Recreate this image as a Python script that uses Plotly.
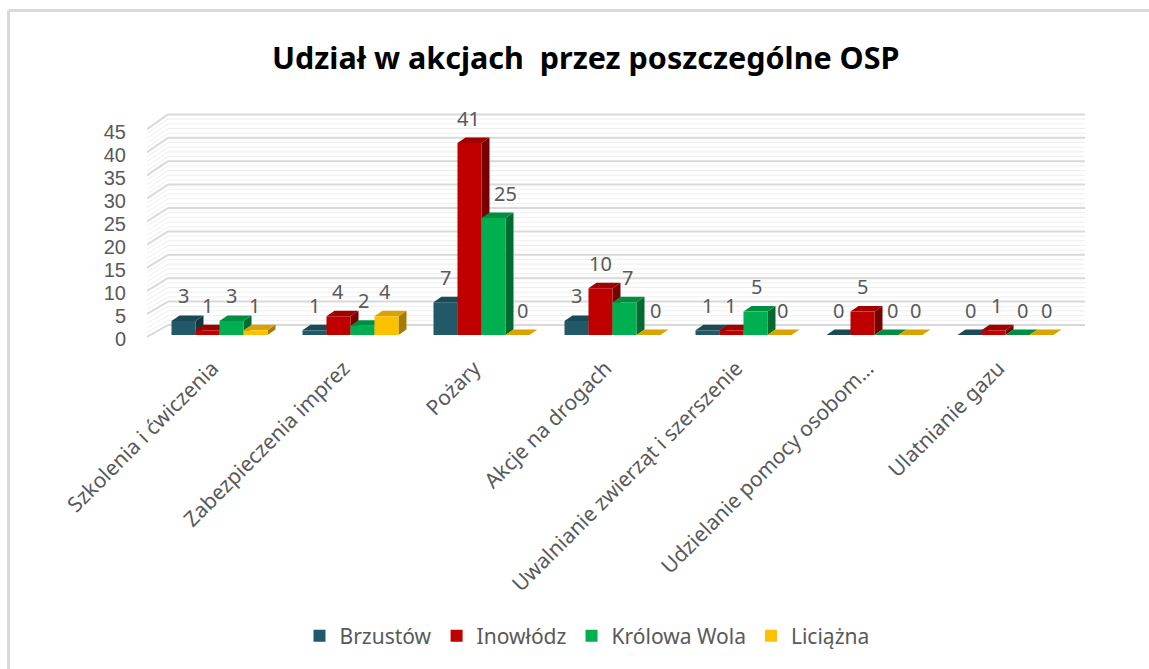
import plotly.graph_objects as go

categories = ["Szkolenia i ćwiczenia", "Zabezpieczenia imprez", "Pożary", "Akcje na drogach",
              "Uwalnianie zwierząt i szerszenie", "Udzielanie pomocy osobom…", "Ulatnianie gazu"]
brzustow = [3, 1, 7, 3, 1, 0, 0]
inowlodz = [1, 4, 41, 10, 1, 5, 1]
krolowa_wola = [3, 2, 25, 7, 5, 0, 0]
liciazna = [1, 4, 0, 0, 0, 0, 0]
series_names = ["Brzustów", "Inowłódz", "Królowa Wola", "Liciążna"]
series_values = [brzustow, inowlodz, krolowa_wola, liciazna]
front_colors = ["#215968", "#C00000", "#00B050", "#FFC000"]
top_colors = ["#1B4A57", "#A00000", "#008F41", "#D9A300"]
side_colors = ["#143842", "#780000", "#006B2E", "#A67C00"]
y_ticks = list(range(0, 50, 5))
# horizontal nudges of the value labels, in pixels, one row per series
label_nudge = [
    [0, 0, 0, 0, 0, 0, 1],
    [0, 0, -1, 0, -1, 0, 3],
    [0, 1, 12, 3, 1, 6, 5],
    [-1, -1, 5, 7, 3, 5, 5],
]

TEXT = "#595959"
FONT = "Noto Sans"
PX_X = 131.0      # pixels per category
PX_Y = 4.68       # pixels per unit
BAR_W = 24.0 / PX_X
DEPTH_X = 8 / PX_X
DEPTH_Y = 5.5 / PX_Y
WALL_X0, WALL_DX = -0.5534, 21 / PX_X
X_MAX = 6.607
BACK_0 = 10 / PX_Y   # back wall zero sits above the bars' baseline
PLOT_L, PLOT_R, PLOT_T, PLOT_B = 147, 1085, 110, 345

def paper_x(px):
    return (px - PLOT_L) / (PLOT_R - PLOT_L)
def paper_y(py):
    return (PLOT_B - py) / (PLOT_B - PLOT_T)

shapes = []
def poly(pts, fill):
    d = "M " + " L ".join(f"{x:.4f} {y:.4f}" for x, y in pts) + " Z"
    shapes.append(dict(type="path", path=d, xref="x", yref="y", fillcolor=fill,
                       line=dict(width=0), layer="below"))
def seg(x0, y0, x1, y1, color, w):
    shapes.append(dict(type="line", x0=x0, y0=y0, x1=x1, y1=y1, xref="x", yref="y",
                       line=dict(color=color, width=w), layer="below"))

# outer frame of the chart (top and left edges are the ones inside the picture)
for (a, b, c, d) in [(8.5, 10.5, 1149, 10.5), (8.5, 10.5, 8.5, 669)]:
    shapes.append(dict(type="line", xref="paper", yref="paper", x0=paper_x(a), y0=paper_y(b),
                       x1=paper_x(c), y1=paper_y(d), line=dict(color="#D9D9D9", width=3), layer="below"))

# back and side walls
front_scale = 4.62 / PX_Y
for t in range(0, 46):
    major = t % 5 == 0
    col, w = ("#D9D9D9", 2) if major else ("#EFEFEF", 1)
    yb = BACK_0 + t
    yf = -2 / PX_Y + t * front_scale
    seg(WALL_X0 + WALL_DX, yb, X_MAX, yb, col, w)
    seg(WALL_X0, yf, WALL_X0 + WALL_DX, yb, col, w)

# 3D faces computed from the series values
for s, vals in enumerate(series_values):
    for c, v in enumerate(vals):
        x0 = c + (s - 2) * BAR_W
        x1 = x0 + BAR_W
        poly([(x1, 0), (x1 + DEPTH_X, DEPTH_Y), (x1 + DEPTH_X, v + DEPTH_Y), (x1, v)], side_colors[s])
        poly([(x0, v), (x0 + DEPTH_X, v + DEPTH_Y), (x1 + DEPTH_X, v + DEPTH_Y), (x1, v)], top_colors[s])

fig = go.Figure()
xs = list(range(len(categories)))
for s, vals in enumerate(series_values):
    fig.add_trace(go.Bar(x=xs, y=vals, name=series_names[s], marker=dict(color=front_colors[s], line=dict(width=0))))
fig.add_trace(go.Scatter(x=[0], y=[0], yaxis="y2", mode="markers", marker=dict(opacity=0),
                         showlegend=False, hoverinfo="skip"))

annotations = []
for s, vals in enumerate(series_values):
    for c, v in enumerate(vals):
        annotations.append(dict(x=c + (s - 1.5) * BAR_W, y=v, xref="x", yref="y", text=str(v), showarrow=False,
                                xshift=label_nudge[s][c], yshift=25, font=dict(family=FONT, size=20, color=TEXT)))
annotations.append(dict(x=paper_x(585), y=paper_y(57), xref="paper", yref="paper", showarrow=False,
                        xanchor="center", yanchor="middle",
                        text="<b>Udział w akcjach\u00a0 przez poszczególne OSP</b>",
                        font=dict(family=FONT, size=30.5, color="#000000")))

fig.update_layout(
    width=1149, height=669, autosize=False, paper_bgcolor="white", plot_bgcolor="rgba(0,0,0,0)",
    margin=dict(l=PLOT_L, r=1149 - PLOT_R, t=PLOT_T, b=669 - PLOT_B),
    barmode="group", bargap=1 - 4 * BAR_W, bargroupgap=0,
    font=dict(family=FONT, color=TEXT),
    xaxis=dict(range=[WALL_X0, X_MAX], tickmode="array", tickvals=[x - 7 / PX_X for x in xs], ticktext=categories,
               tickangle=-45, showgrid=False, zeroline=False, showline=False, ticks="",
               tickfont=dict(family=FONT, size=21, color=TEXT), automargin=False, ticklabelstandoff=6),
    yaxis=dict(range=[-10 / PX_Y, 225 / PX_Y], showgrid=False, zeroline=False, showticklabels=False, showline=False, fixedrange=True),
    yaxis2=dict(overlaying="y", side="left", range=[-6 / 4.6, 229 / 4.6], tickmode="array", tickvals=y_ticks,
                showgrid=False, zeroline=False, showline=False, ticks="", ticklabelstandoff=20,
                tickfont=dict(family="Liberation Sans", size=20, color=TEXT), automargin=False),
    showlegend=True,
    legend=dict(orientation="h", x=paper_x(587), xanchor="center", y=paper_y(636), yanchor="middle",
                bgcolor="rgba(0,0,0,0)",
                font=dict(family=FONT, size=21, color=TEXT), traceorder="normal", itemclick=False),
    shapes=shapes, annotations=annotations,
)
fig.write_html("out.html", config={"displayModeBar": False}, post_script="document.body.style.margin='0';")
